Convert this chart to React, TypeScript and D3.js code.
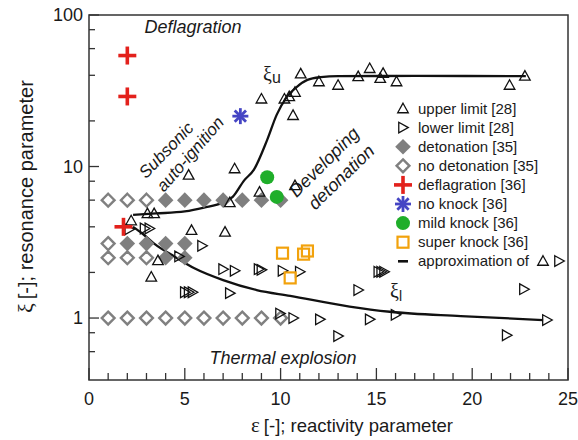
import React, { useEffect } from 'react';
import * as d3 from 'd3';

// [epsilon, xi] pairs
const upperLimit: [number, number][] = [
  [2.2, 4.4], [3.05, 4.9], [3.4, 4.9], [5.35, 3.8], [3.6, 2.4], [3.25, 1.87],
  [7.1, 3.7], [5.2, 8.8], [7.6, 9.7], [7.35, 5.8], [8.9, 6.8], [10.75, 7.5],
  [9.0, 28], [10.2, 28], [10.45, 29], [10.75, 31], [10.65, 21.8], [11.05, 41],
  [12.0, 36.4], [13.0, 34.5], [14.05, 39.3], [14.65, 44.5], [15.2, 38.3],
  [15.35, 41.3], [16.05, 36.4], [21.95, 34.5], [22.75, 39.6],
];

const lowerLimit: [number, number][] = [
  [2.1, 3.85], [2.9, 3.9], [3.15, 3.9], [4.7, 2.55], [5.9, 3.0],
  [5.0, 1.48], [5.2, 1.48], [5.4, 1.48], [7.0, 2.1], [7.6, 2.05],
  [8.85, 2.1], [9.0, 2.08], [10.1, 2.05], [11.0, 2.02], [7.35, 1.46],
  [9.97, 1.07], [10.66, 1.0], [12.05, 0.98], [13.0, 0.76], [14.65, 0.98],
  [14.05, 1.53], [15.1, 2.02], [15.25, 2.02], [15.4, 2.02], [16.0, 1.05],
  [22.7, 1.55], [23.9, 0.97], [21.8, 0.77],
];

const detonation: [number, number][] = [
  [4, 6], [5, 6], [6, 6], [7, 6], [8, 6], [9, 6], [10, 6],
  [2, 3.1], [3, 3.1], [4, 3.1], [5, 3.1],
  [4, 2.5], [5, 2.5],
];

const noDetonation: [number, number][] = [
  [1, 6], [2, 6], [3, 6],
  [1, 3.1],
  [1, 2.5], [2, 2.5], [3, 2.5],
  [1, 1], [2, 1], [3, 1], [4, 1], [5, 1], [6, 1], [7, 1], [8, 1], [9, 1], [10, 1],
];

const deflagration: [number, number][] = [[2, 54], [2, 29], [1.8, 4.0]];
const noKnock: [number, number][] = [[7.9, 21.5]];
const mildKnock: [number, number][] = [[9.3, 8.5], [9.8, 6.3]];
const superKnock: [number, number][] = [[10.1, 2.68], [11.2, 2.64], [11.4, 2.77], [10.5, 1.84]];

const xiUpper: [number, number][] = [
  [2.3, 4.8], [3.5, 4.9], [5.0, 5.05], [6.0, 5.35], [7.0, 5.8], [7.5, 6.3],
  [8.1, 8.1], [8.6, 9.5], [9.3, 15], [9.8, 22], [10.3, 28.5], [10.85, 33.6],
  [11.4, 37.3], [12.1, 38.9], [13, 39.5], [17, 39.6], [22.8, 39.5],
];

const xiLower: [number, number][] = [
  [2.3, 4.0], [2.8, 3.6], [3.4, 3.1], [4.47, 2.54], [5.5, 2.13], [7.0, 1.78],
  [8.75, 1.53], [10.5, 1.4], [13.6, 1.19], [15.7, 1.1], [19.4, 1.03], [23.7, 0.97],
];

const xTicks = [0, 5, 10, 15, 20, 25];
const yTicks = [1, 10, 100];
const yMinor = [0.6, 0.8, 2, 4, 6, 8, 20, 40, 60, 80];

const legendLabels = [
  'upper limit [28]', 'lower limit [28]', 'detonation [35]', 'no detonation [35]',
  'deflagration [36]', 'no knock [36]', 'mild knock [36]', 'super knock [36]',
  'approximation of',
];
const legendKinds = ['up', 'right', 'dia', 'odia', 'plus', 'star', 'circle', 'square', 'line'];

const W = 578;
const H = 440;
const L = 89, R = 568, T = 15, B = 380;
const FONT = '"Liberation Sans", Arial, sans-serif';

const x = d3.scaleLinear().domain([0, 25]).range([L, R]);
const y = d3.scaleLog().domain([0.39, 100]).range([B, T]);

function triUp(cx: number, cy: number, s = 5.3) {
  return `M${cx},${cy - s}L${cx + s},${cy + s * 0.8}L${cx - s},${cy + s * 0.8}Z`;
}
function triRight(cx: number, cy: number, s = 5.3) {
  return `M${cx - s * 0.8},${cy - s}L${cx + s},${cy}L${cx - s * 0.8},${cy + s}Z`;
}
function diamond(cx: number, cy: number, r: number) {
  return `M${cx},${cy - r}L${cx + r},${cy}L${cx},${cy + r}L${cx - r},${cy}Z`;
}

function Marker({ kind, cx, cy }: { kind: string; cx: number; cy: number }) {
  switch (kind) {
    case 'up':
      return <path d={triUp(cx, cy)} fill="none" stroke="#111" strokeWidth={1.3} />;
    case 'right':
      return <path d={triRight(cx, cy)} fill="none" stroke="#111" strokeWidth={1.3} />;
    case 'dia':
      return <path d={diamond(cx, cy, 7.8)} fill="#7f7f7f" />;
    case 'odia':
      return <path d={diamond(cx, cy, 6.4)} fill="none" stroke="#808080" strokeWidth={2.4} />;
    case 'plus':
      return (
        <g stroke="#e3211c" strokeWidth={3.6}>
          <line x1={cx - 9} x2={cx + 9} y1={cy} y2={cy} />
          <line x1={cx} x2={cx} y1={cy - 9} y2={cy + 9} />
        </g>
      );
    case 'star': {
      const r = 8;
      return (
        <g stroke="#4545c4" strokeWidth={2.8}>
          {[0, 45, 90, 135].map(a => {
            const t = (a * Math.PI) / 180;
            return <line key={a} x1={cx - r * Math.cos(t)} x2={cx + r * Math.cos(t)} y1={cy - r * Math.sin(t)} y2={cy + r * Math.sin(t)} />;
          })}
        </g>
      );
    }
    case 'circle':
      return <circle cx={cx} cy={cy} r={7} fill="#1fae2a" />;
    case 'square':
      return <rect x={cx - 5.5} y={cy - 5.5} width={11} height={11} fill="none" stroke="#f2a20c" strokeWidth={2.2} />;
    case 'line':
      return <line x1={cx - 5} x2={cx + 5} y1={cy} y2={cy} stroke="#111" strokeWidth={2.6} />;
    default:
      return null;
  }
}

function Series({ data, kind }: { data: [number, number][]; kind: string }) {
  return (
    <g>
      {data.map((d, i) => (
        <Marker key={i} kind={kind} cx={x(d[0])} cy={y(d[1])} />
      ))}
    </g>
  );
}

export default function App() {
  useEffect(() => {
    document.body.style.margin = '0';
  }, []);

  const line = d3.line<[number, number]>()
    .x(d => x(d[0]))
    .y(d => y(d[1]))
    .curve(d3.curveMonotoneX);

  const xMinor = d3.range(1, 25).filter(v => v % 5 !== 0);

  return (
    <svg width={W} height={H} style={{ display: 'block', background: 'white' }} fontFamily={FONT}>
      {/* axis ticks, pointing inward */}
      <g stroke="#333" strokeWidth={1.3}>
        {xTicks.map(t => <line key={'xt' + t} x1={x(t)} x2={x(t)} y1={B} y2={B - 12} />)}
        {xMinor.map(t => <line key={'xm' + t} x1={x(t)} x2={x(t)} y1={B} y2={B - 7} />)}
        {yTicks.map(t => <line key={'yt' + t} x1={L} x2={L + 10} y1={y(t)} y2={y(t)} />)}
        {yMinor.map(t => <line key={'ym' + t} x1={L} x2={L + 6} y1={y(t)} y2={y(t)} />)}
      </g>
      <g fontSize={18} fill="#1a1a1a">
        {xTicks.map(t => (
          <text key={t} x={x(t)} y={405} textAnchor="middle">{t}</text>
        ))}
        {yTicks.map(t => (
          <text key={t} x={L - 6} y={y(t) + 6} textAnchor="end">{t}</text>
        ))}
      </g>

      {/* region labels */}
      <g fill="#1a1a1a" fontStyle="italic">
        <text x={193} y={33} fontSize={18} textAnchor="middle">Deflagration</text>
        <text x={283} y={364} fontSize={18} textAnchor="middle">Thermal explosion</text>
        <text transform="translate(166,150) rotate(-46)" fontSize={17} textAnchor="middle" dy="0.35em">Subsonic</text>
        <text transform="translate(190,154) rotate(-49)" fontSize={17} textAnchor="middle" dy="0.35em">auto-ignition</text>
        <text transform="translate(324,162) rotate(-45)" fontSize={18} textAnchor="middle" dy="0.35em">Developing</text>
        <text transform="translate(341,177) rotate(-44)" fontSize={18} textAnchor="middle" dy="0.35em">detonation</text>
      </g>
      <text x={263} y={81} fontSize={20} fill="#1a1a1a">
        <tspan fontFamily='"Liberation Serif", serif'>ξ</tspan>
        <tspan fontSize={16} dy={2}>u</tspan>
      </text>
      <text x={390} y={298} fontSize={20} fill="#1a1a1a">
        <tspan fontFamily='"Liberation Serif", serif'>ξ</tspan>
        <tspan fontSize={14} dy={3}>l</tspan>
      </text>

      {/* approximation curves */}
      <path d={line(xiUpper) ?? ''} fill="none" stroke="#111" strokeWidth={2.3} />
      <path d={line(xiLower) ?? ''} fill="none" stroke="#111" strokeWidth={2.3} />

      <Series data={noDetonation} kind="odia" />
      <Series data={detonation} kind="dia" />
      <Series data={upperLimit} kind="up" />
      <Series data={lowerLimit} kind="right" />
      <Series data={deflagration} kind="plus" />
      <Series data={noKnock} kind="star" />
      <Series data={mildKnock} kind="circle" />
      <Series data={superKnock} kind="square" />

      {/* legend */}
      <g>
        {legendLabels.map((lab, i) => {
          const ly = 108.5 + i * 19.1;
          return (
            <g key={lab}>
              <Marker kind={legendKinds[i]} cx={403} cy={ly} />
              <text x={418} y={ly + 5} fontSize={15} fill="#1a1a1a">{lab}</text>
            </g>
          );
        })}
        <Marker kind="up" cx={543} cy={261} />
        <Marker kind="right" cx={559} cy={261} />
      </g>

      {/* frame */}
      <rect x={L} y={T} width={R - L} height={B - T} fill="none" stroke="#333" strokeWidth={1.5} />

      {/* axis titles */}
      <text x={251} y={432} fontSize={18.5} fill="#1a1a1a">
        <tspan fontFamily='"Liberation Serif", serif' fontSize={21}>ε</tspan>
        <tspan dx={4}>[-]; reactivity parameter</tspan>
      </text>
      <text transform="translate(33,313) rotate(-90)" fontSize={20} fill="#1a1a1a">
        <tspan fontFamily='"Liberation Serif", serif' fontSize={22}>ξ</tspan>
        <tspan dx={4}>[-]; resonance parameter</tspan>
      </text>
    </svg>
  );
}
